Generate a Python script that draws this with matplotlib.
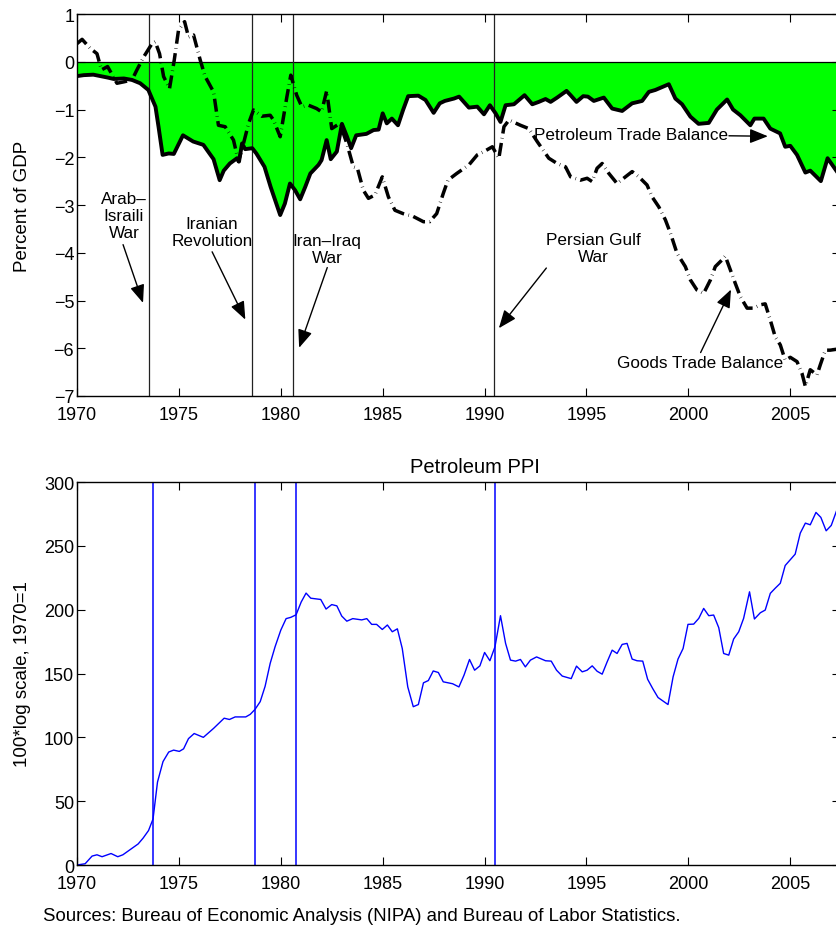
import matplotlib
matplotlib.use("Agg")
import matplotlib.pyplot as plt

plt.rcParams['font.family'] = ['Liberation Sans', 'DejaVu Sans']
plt.rcParams['axes.unicode_minus'] = True

# petroleum trade balance, percent of GDP
pet_year = [1970.0, 1970.33, 1970.8, 1971.15, 1971.5, 1971.8, 1972.3, 1972.7, 1973.1, 1973.5,
            1973.85, 1974.0, 1974.2, 1974.5, 1974.75, 1975.2, 1975.7, 1976.2, 1976.7, 1977.0,
            1977.2, 1977.5, 1977.85, 1977.95, 1978.1, 1978.25, 1978.6, 1978.8, 1979.2, 1979.5,
            1979.97, 1980.2, 1980.45, 1980.7, 1980.95, 1981.2, 1981.45, 1981.85, 1982.0, 1982.25,
            1982.45, 1982.75, 1983.0, 1983.25, 1983.45, 1983.7, 1984.2, 1984.55, 1984.8, 1985.0,
            1985.2, 1985.45, 1985.75, 1986.0, 1986.25, 1986.75, 1987.1, 1987.5, 1987.8, 1988.05,
            1988.5, 1988.75, 1989.23, 1989.64, 1989.97, 1990.26, 1990.54, 1990.78, 1991.03, 1991.44,
            1991.96, 1992.34, 1992.66, 1992.99, 1993.24, 1993.56, 1994.02, 1994.22, 1994.51, 1994.84,
            1995.07, 1995.36, 1995.85, 1996.26, 1996.75, 1997.24, 1997.73, 1998.06, 1998.38, 1999.04,
            1999.36, 1999.69, 2000.1, 2000.5, 2001.0, 2001.4, 2001.9, 2002.19, 2002.55, 2003.04,
            2003.24, 2003.69, 2004.02, 2004.5, 2004.75, 2005.0, 2005.33, 2005.74, 2005.98, 2006.5,
            2006.83, 2007.29]
pet_bal = [-0.30, -0.28, -0.27, -0.30, -0.33, -0.36, -0.35, -0.38, -0.45, -0.59,
           -0.94, -1.36, -1.95, -1.92, -1.93, -1.54, -1.67, -1.74, -2.04, -2.48,
           -2.28, -2.13, -2.02, -2.09, -1.71, -1.83, -1.81, -1.92, -2.20, -2.62,
           -3.21, -2.97, -2.55, -2.69, -2.88, -2.62, -2.34, -2.16, -2.06, -1.64,
           -2.04, -1.88, -1.30, -1.57, -1.81, -1.54, -1.51, -1.43, -1.42, -1.08,
           -1.29, -1.19, -1.33, -1.01, -0.72, -0.71, -0.80, -1.07, -0.87, -0.82,
           -0.77, -0.73, -0.96, -0.94, -1.10, -0.91, -1.08, -1.26, -0.91, -0.89,
           -0.70, -0.89, -0.84, -0.78, -0.84, -0.75, -0.61, -0.70, -0.84, -0.72,
           -0.73, -0.82, -0.75, -0.98, -1.03, -0.87, -0.82, -0.63, -0.59, -0.47,
           -0.77, -0.89, -1.15, -1.30, -1.28, -1.00, -0.79, -1.00, -1.12, -1.33,
           -1.19, -1.19, -1.40, -1.50, -1.78, -1.76, -1.95, -2.32, -2.28, -2.50,
           -2.02, -2.30]

# goods trade balance, percent of GDP
goods_year = [1970.0, 1970.25, 1970.65, 1970.98, 1971.2, 1971.5, 1971.96, 1972.3, 1972.7, 1972.94,
              1973.27, 1973.68, 1973.84, 1974.05, 1974.25, 1974.54, 1974.77, 1974.98, 1975.28, 1975.47,
              1975.72, 1976.05, 1976.29, 1976.7, 1976.94, 1977.27, 1977.68, 1977.92, 1978.17, 1978.42,
              1978.66, 1979.07, 1979.48, 1979.64, 1979.97, 1980.3, 1980.49, 1980.78, 1981.03, 1981.36,
              1981.76, 1982.0, 1982.25, 1982.5, 1982.9, 1983.24, 1983.56, 1983.76, 1984.05, 1984.3,
              1984.62, 1984.98, 1985.28, 1985.6, 1986.0, 1986.5, 1987.0, 1987.3, 1987.65, 1987.97,
              1988.2, 1988.63, 1989.23, 1989.64, 1989.97, 1990.38, 1990.7, 1990.95, 1991.2, 1991.76,
              1992.17, 1992.58, 1993.15, 1993.56, 1993.97, 1994.22, 1994.7, 1995.03, 1995.28, 1995.52,
              1995.77, 1996.1, 1996.5, 1996.91, 1997.24, 1997.57, 1997.97, 1998.22, 1998.55, 1998.87,
              1999.12, 1999.44, 1999.85, 2000.1, 2000.42, 2000.75, 2001.08, 2001.32, 2001.65, 2001.81,
              2002.06, 2002.3, 2002.55, 2002.88, 2003.2, 2003.53, 2003.77, 2004.02, 2004.26, 2004.51,
              2004.75, 2005.0, 2005.33, 2005.57, 2005.74, 2005.98, 2006.31, 2006.47, 2006.72, 2006.96,
              2007.29]
goods_bal = [0.38, 0.47, 0.28, 0.17, -0.17, -0.10, -0.45, -0.42, -0.38, -0.17,
             0.10, 0.38, 0.42, 0.17, -0.31, -0.56, 0.03, 0.66, 0.84, 0.52,
             0.56, 0.03, -0.31, -0.63, -1.33, -1.36, -1.64, -2.09, -1.71, -1.29,
             -1.01, -1.14, -1.12, -1.22, -1.57, -0.73, -0.28, -0.70, -0.94, -0.91,
             -0.98, -1.05, -0.61, -1.40, -1.29, -1.71, -2.20, -2.23, -2.69, -2.86,
             -2.79, -2.41, -2.83, -3.11, -3.18, -3.24, -3.35, -3.35, -3.18, -2.76,
             -2.48, -2.34, -2.16, -1.95, -1.88, -1.78, -2.02, -1.36, -1.22, -1.33,
             -1.40, -1.67, -2.02, -2.13, -2.20, -2.41, -2.48, -2.44, -2.51, -2.23,
             -2.13, -2.34, -2.55, -2.41, -2.30, -2.41, -2.58, -2.83, -3.04, -3.31,
             -3.59, -4.01, -4.29, -4.57, -4.78, -4.85, -4.57, -4.29, -4.15, -4.07,
             -4.36, -4.64, -4.92, -5.16, -5.16, -5.09, -5.07, -5.41, -5.76, -5.93,
             -6.25, -6.19, -6.28, -6.52, -6.80, -6.45, -6.56, -6.35, -6.04, -6.04,
             -6.02]

# petroleum PPI, 100*log, 1970=1
ppi_year = [1970.0, 1970.4, 1970.74, 1970.98, 1971.23, 1971.67, 1972.0, 1972.25, 1972.6, 1973.0,
            1973.24, 1973.51, 1973.73, 1973.95, 1974.22, 1974.5, 1974.74, 1975.02, 1975.23, 1975.47,
            1975.75, 1976.2, 1976.7, 1977.22, 1977.48, 1977.76, 1978.28, 1978.5, 1978.74, 1978.99,
            1979.23, 1979.48, 1979.72, 1980.0, 1980.26, 1980.49, 1980.75, 1981.0, 1981.24, 1981.47,
            1981.96, 1982.22, 1982.5, 1982.75, 1982.99, 1983.24, 1983.53, 1983.97, 1984.22, 1984.46,
            1984.7, 1984.98, 1985.23, 1985.47, 1985.72, 1985.96, 1986.23, 1986.5, 1986.75, 1987.0,
            1987.24, 1987.48, 1987.73, 1987.97, 1988.43, 1988.74, 1988.99, 1989.26, 1989.51, 1989.77,
            1990.0, 1990.26, 1990.51, 1990.78, 1991.03, 1991.27, 1991.52, 1991.76, 1992.0, 1992.25,
            1992.55, 1992.99, 1993.27, 1993.53, 1993.81, 1994.25, 1994.51, 1994.79, 1995.03, 1995.28,
            1995.52, 1995.77, 1996.01, 1996.26, 1996.5, 1996.75, 1996.99, 1997.24, 1997.48, 1997.76,
            1998.0, 1998.25, 1998.51, 1999.0, 1999.25, 1999.49, 1999.74, 1999.98, 2000.26, 2000.51,
            2000.75, 2001.0, 2001.24, 2001.49, 2001.73, 2001.98, 2002.22, 2002.47, 2002.71, 2003.0,
            2003.24, 2003.53, 2003.77, 2004.02, 2004.26, 2004.51, 2004.75, 2005.24, 2005.49, 2005.74,
            2005.98, 2006.26, 2006.5, 2006.76, 2007.01, 2007.29]
ppi = [0, 1, 7, 8, 6.5, 9, 6.5, 8, 12, 16.5,
       21, 27, 36, 65, 81, 88.5, 90, 89, 91, 99,
       103, 100, 107, 115, 114, 116, 116, 118, 122, 128,
       140, 158, 171, 184, 193, 194, 196, 206, 213, 209,
       208, 200.5, 204, 203, 195, 191, 193, 192, 193, 188.5,
       188.5, 184.5, 188, 182.7, 185, 169.6, 139.5, 124, 125.7, 142.7,
       144.5, 152, 150.8, 143.5, 142, 139.5, 148.7, 161, 152.6, 156,
       166.5, 160, 171, 195.3, 173.6, 160.5, 159.7, 161, 155.2, 160.5,
       163, 160, 159.7, 152.6, 148, 146, 155.8, 151.3, 152.6, 156,
       151.8, 149.5, 159, 168.3, 165.7, 172.8, 173.6, 161.3, 160, 159.7,
       145.5, 138.2, 131.2, 125.7, 147.4, 161.3, 169.6, 188.5, 188.7, 193.2,
       201, 195.3, 195.8, 185.9, 165.7, 164.4, 177, 182.7, 193.2, 214,
       192.7, 197.6, 199.7, 212.8, 216.8, 220.7, 234.6, 243.5, 260, 267.8,
       266.5, 276.2, 272.3, 261.8, 266, 278.3]

# war dates marked in each panel
wars_top = [1973.54, 1978.6, 1980.6, 1990.45]
wars_ppi = [1973.74, 1978.72, 1980.75, 1990.5]
years = [1970, 1975, 1980, 1985, 1990, 1995, 2000, 2005]

fig = plt.figure(figsize=(8.37, 9.28), dpi=100)

def style_axes(ax):
    ax.set_xlim(1970, 2007.44)
    ax.set_xticks(years)
    ax.tick_params(direction='in', top=True, right=True, length=6, width=0.8,
                   labelsize=13)
    ax.tick_params(axis='y', pad=2)
    ax.tick_params(axis='x', pad=7.5)
    for s in ax.spines.values():
        s.set_linewidth(1.0)

arrow = dict(arrowstyle='-|>,head_length=0.55,head_width=0.22', color='k',
             lw=1.0, shrinkA=0, shrinkB=0, mutation_scale=20)

# top panel: trade balances
ax1 = fig.add_axes([0.092, 0.5722, 0.9116, 0.4116])
ax1.fill_between(pet_year, pet_bal, 0, color='#00ff00', lw=0)
ax1.axhline(0, color='k', lw=0.9)
for d in wars_top:
    ax1.axvline(d, color='#222222', lw=0.9)
ax1.plot(pet_year, pet_bal, color='k', lw=2.8)
ax1.plot(goods_year, goods_bal, color='k', lw=2.5,
         linestyle=(0, (3.75, 1.3, 0.15, 1.3)))
ax1.set_ylim(-7, 1)
ax1.set_yticks(range(-7, 2))
ax1.set_ylabel('Percent of GDP', fontsize=13.5)
ax1.yaxis.set_label_coords(-0.060, 0.5)
style_axes(ax1)

fs = 12.3
ls = 1.2
ax1.text(1972.3, -3.22, 'Arab\u2013\nIsraili\nWar', ha='center', va='center',
         fontsize=fs, linespacing=ls)
ax1.annotate('', xy=(1973.24, -5.05), xytext=(1972.26, -3.83), arrowprops=arrow)
ax1.text(1976.63, -3.57, 'Iranian\nRevolution', ha='center', va='center',
         fontsize=fs, linespacing=ls)
ax1.annotate('', xy=(1978.26, -5.4), xytext=(1976.63, -3.98), arrowprops=arrow)
ax1.text(1982.28, -3.92, 'Iran\u2013Iraq\nWar', ha='center', va='center',
         fontsize=fs, linespacing=ls)
ax1.annotate('', xy=(1980.9, -5.99), xytext=(1982.28, -4.31), arrowprops=arrow)
ax1.text(1995.34, -3.9, 'Persian Gulf\nWar', ha='center', va='center',
         fontsize=fs, linespacing=ls)
ax1.annotate('', xy=(1990.7, -5.58), xytext=(1993.03, -4.32), arrowprops=arrow)
ax1.text(2000.6, -6.3, 'Goods Trade Balance', ha='center', va='center',
         fontsize=fs)
ax1.annotate('', xy=(2002.09, -4.77), xytext=(2000.6, -6.09), arrowprops=arrow)
ax1.text(1997.21, -1.53, 'Petroleum Trade Balance', ha='center', va='center',
         fontsize=fs)
ax1.annotate('', xy=(2003.9, -1.56), xytext=(2001.99, -1.55), arrowprops=arrow)

# bottom panel: petroleum PPI
ax2 = fig.add_axes([0.092, 0.0668, 0.9116, 0.4127])
for d in wars_ppi:
    ax2.axvline(d, color='#0000ff', lw=1.1)
ax2.plot(ppi_year, ppi, color='#0000ff', lw=1.0)
ax2.set_ylim(0, 300)
ax2.set_yticks(range(0, 301, 50))
ax2.set_ylabel('100*log scale, 1970=1', fontsize=13.5)
ax2.yaxis.set_label_coords(-0.060, 0.5)
ax2.set_title('Petroleum PPI', fontsize=14.5, x=0.521, pad=7)
style_axes(ax2)

fig.text(43 / 837, 1 - 917 / 928,
         'Sources: Bureau of Economic Analysis (NIPA) and Bureau of Labor Statistics.',
         fontsize=13.4, va='center', ha='left')

fig.savefig('out.png', dpi=100)
